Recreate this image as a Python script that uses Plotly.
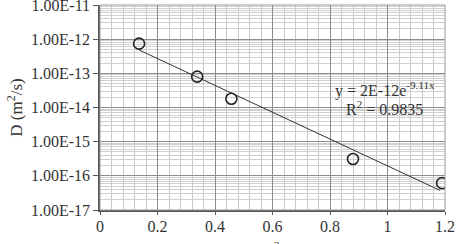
import numpy as np
import plotly.graph_objects as go

# Data
x_vals = [0.136, 0.338, 0.457, 0.88, 1.19]
d_vals = [7.4e-13, 8.0e-14, 1.8e-14, 3.1e-16, 6.1e-17]

# Trend line extent
trend_x = [0.136, 1.183]

y_tickvals = [1e-17, 1e-16, 1e-15, 1e-14, 1e-13, 1e-12, 1e-11]
y_ticktext = ["1.00E-17", "1.00E-16", "1.00E-15", "1.00E-14", "1.00E-13", "1.00E-12", "1.00E-11"]
x_tickvals = [0, 0.2, 0.4, 0.6, 0.8, 1.0, 1.2]
x_ticktext = ["0", "0.2", "0.4", "0.6", "0.8", "1", "1.2"]

eq_text = "y = 2E-12e<sup>-9.11x</sup>"
r2_text = "R<sup>2</sup> = 0.9835"
x_title = "x<sup>2</sup>"

# exponential fit of the data
b, ln_a = np.polyfit(np.array(x_vals), np.log(np.array(d_vals)), 1)
tx = np.linspace(trend_x[0], trend_x[1], 50)
ty = np.exp(ln_a + b * tx)

SERIF = "Liberation Serif, Times New Roman, serif"

fig = go.Figure()
fig.add_trace(go.Scatter(x=tx, y=ty, mode="lines",
                         line=dict(color="#333333", width=1), showlegend=False))
fig.add_trace(go.Scatter(x=x_vals, y=d_vals, mode="markers",
                         marker=dict(symbol="circle-open", size=11, color="#222222",
                                     line=dict(width=1.6, color="#222222")),
                         showlegend=False))

fig.add_annotation(x=0.99, y=np.log10(3.4e-14), xref="x", yref="y", text=eq_text,
                   showarrow=False, font=dict(family=SERIF, size=16, color="#333333"))
fig.add_annotation(x=0.99, y=np.log10(1.0e-14), xref="x", yref="y", text=r2_text,
                   showarrow=False, font=dict(family=SERIF, size=16, color="#333333"))
# x-axis title, mostly below the visible canvas as in the reference
fig.add_annotation(x=0.5, y=-0.13, xref="paper", yref="paper", text=x_title,
                   yanchor="top", showarrow=False,
                   font=dict(family=SERIF, size=16, color="#333333"))

fig.update_layout(
    width=460, height=244,
    margin=dict(l=100, r=15, t=5, b=34),
    paper_bgcolor="white", plot_bgcolor="white",
    font=dict(family=SERIF, size=16, color="#333333"),
    xaxis=dict(range=[0, 1.2], tickvals=x_tickvals, ticktext=x_ticktext,
               automargin=False, ticklabeloverflow="allow",
               showgrid=True, gridcolor="#8c8c8c", gridwidth=1,
               minor=dict(dtick=0.04, showgrid=True, gridcolor="#c8c8c8", gridwidth=1),
               showline=True, linecolor="#555555", linewidth=1.5,
               ticks="outside", ticklen=3, tickcolor="#555555",
               ticklabelstandoff=-2,
               tickfont=dict(family=SERIF, size=16, color="#333333"),
               zeroline=False, mirror=False),
    yaxis=dict(type="log", range=[-17, -11], tickvals=y_tickvals, ticktext=y_ticktext,
               automargin=False, ticklabeloverflow="allow",
               showgrid=True, gridcolor="#8c8c8c", gridwidth=1,
               minor=dict(dtick="D1", showgrid=True, gridcolor="#d0d0d0", gridwidth=1),
               showline=True, linecolor="#555555", linewidth=1.5,
               ticks="outside", ticklen=5, tickcolor="#555555",
               tickfont=dict(family=SERIF, size=16, color="#333333"),
               zeroline=False,
               title=dict(text="D (m<sup>2</sup>/s)", font=dict(family=SERIF, size=17),
                          standoff=4)),
    shapes=[dict(type="rect", xref="paper", yref="paper", x0=0, x1=1, y0=0, y1=1,
                 line=dict(color="#9a9a9a", width=1), fillcolor="rgba(0,0,0,0)")],
)

fig.write_html("out.html")
